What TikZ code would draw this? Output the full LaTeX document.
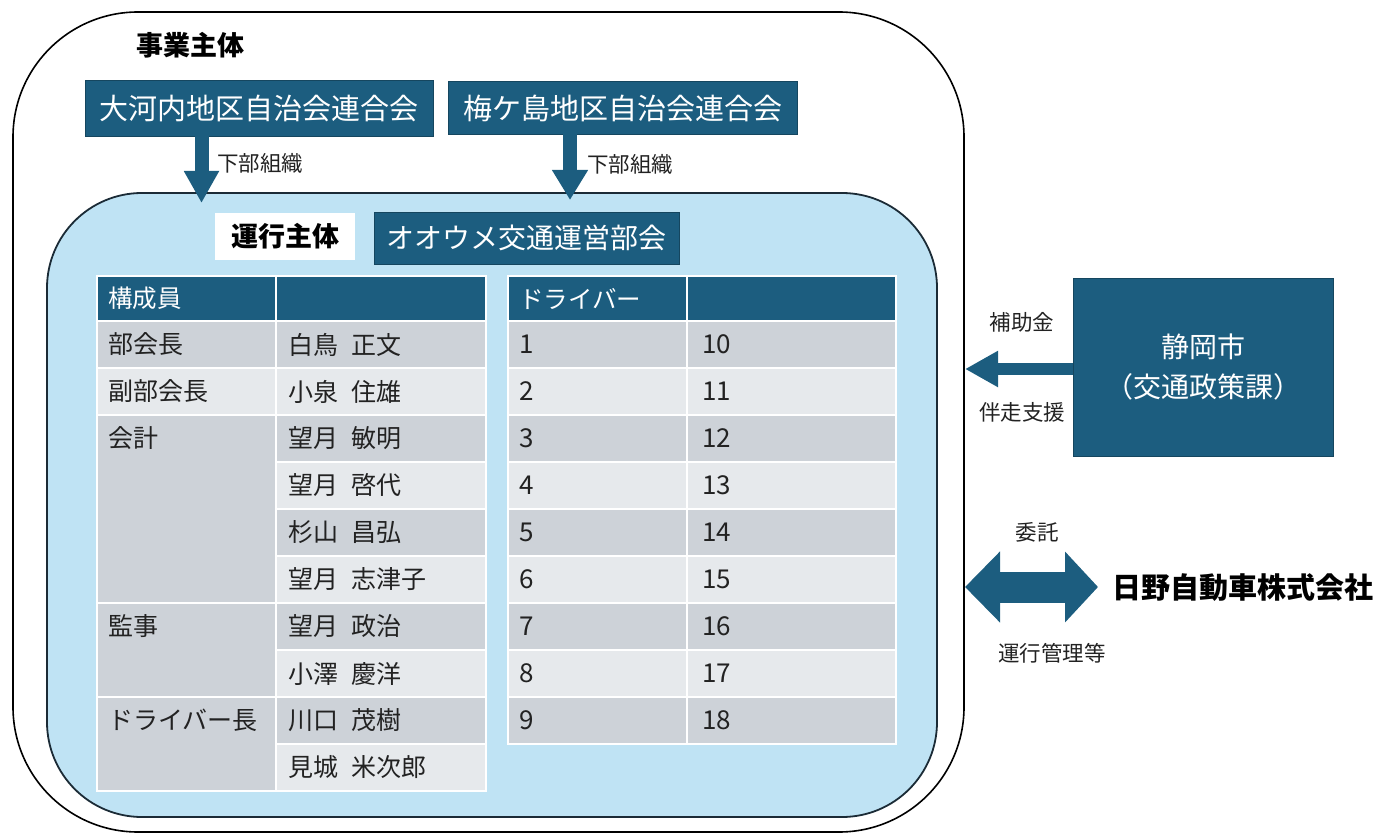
\documentclass[tikz,border=0pt]{standalone}
\usepackage{fontspec}
\setmainfont{Noto Sans CJK JP}
\usetikzlibrary{arrows.meta}
\definecolor{navy}{HTML}{1C5D7F}
\definecolor{navydk}{HTML}{15465F}
\definecolor{skyfill}{HTML}{BFE3F4}
\definecolor{rowdark}{HTML}{CDD2D8}
\definecolor{rowlight}{HTML}{E6E9EC}
\definecolor{ink}{HTML}{222222}
\definecolor{edge}{HTML}{1B2B36}
\newcommand{\fsz}[1]{\fontsize{#1}{#1}\selectfont}
\newcommand{\cellbox}[5]{\path[fill=#5, draw=white, line width=1.6pt] (#1,#2) rectangle (#3,#4);}
\begin{document}
\begin{tikzpicture}[x=1pt,y=-1pt,
  every node/.style={inner sep=0pt, outer sep=0pt},
  darkbox/.style={fill=navy, draw=navydk, line width=0.8pt, text=white},
  lbl/.style={text=ink, font=\fsz{21.5}},
  celltxt/.style={anchor=west, text=ink, font=\fsz{25}},
  numtxt/.style={anchor=west, text=ink, font=\fsz{26}},
  headtxt/.style={anchor=west, text=white, font=\fsz{24.5}},
  blockarrow/.style={navy, line width=#1}
]
\useasboundingbox (0,0) rectangle (1388,834);

% outer and inner frames
\node[draw=black, line width=1.6pt, rounded corners=125pt, minimum width=951pt, minimum height=820pt] (outer) at (488.5,422) {};
\node[fill=skyfill, draw=edge, line width=1.8pt, rounded corners=95pt, minimum width=890pt, minimum height=624pt] (inner) at (492,505) {};

% titles
\node[font=\fsz{27}\bfseries, text=black] (jigyo) at (190,45) {事業主体};
\node[darkbox, minimum width=348pt, minimum height=56pt, font=\fsz{29}] (okochi) at (259,108) {大河内地区自治会連合会};
\node[darkbox, minimum width=349pt, minimum height=53pt, font=\fsz{29}] (umegashima) at (622.5,108) {梅ケ島地区自治会連合会};
\node[fill=white, minimum width=140pt, minimum height=47pt, font=\fsz{27}\bfseries, text=black] (unko) at (285,236.5) {運行主体};
\node[darkbox, minimum width=305pt, minimum height=52pt, font=\fsz{28}] (oume) at (526.5,238) {オオウメ交通運営部会};

% left table
\cellbox{97}{276}{276}{321}{navy}
\cellbox{276}{276}{486}{321}{navy}
\cellbox{97}{321}{276}{368}{rowdark}
\cellbox{97}{368}{276}{415}{rowlight}
\cellbox{97}{415}{276}{603}{rowdark}
\cellbox{97}{603}{276}{697}{rowdark}
\cellbox{97}{697}{276}{791}{rowdark}
\foreach \i in {1,...,10}{
  \pgfmathsetmacro\ytop{321+47*(\i-1)}
  \pgfmathsetmacro\ybot{321+47*\i}
  \ifodd\i \cellbox{276}{\ytop}{486}{\ybot}{rowdark}\else \cellbox{276}{\ytop}{486}{\ybot}{rowlight}\fi
}
\node[headtxt] (hmember) at (108,298.5) {構成員};
\node[celltxt] (r1) at (108,344.5) {部会長};
\node[celltxt] (r2) at (108,391.5) {副部会長};
\node[celltxt] (r3) at (108,438.5) {会計};
\node[celltxt] (r4) at (108,626.5) {監事};
\node[celltxt] (r5) at (108,720.5) {ドライバー長};
\foreach \a/\b [count=\i] in {白鳥/正文, 小泉/住雄, 望月/敏明, 望月/啓代, 杉山/昌弘, 望月/志津子, 望月/政治, 小澤/慶洋, 川口/茂樹, 見城/米次郎}{
  \node[celltxt] (nm\i) at (288,{297.5+47*\i}) {\a\hspace{0.55em}\b};
}

% right table
\cellbox{508}{276}{687}{321}{navy}
\cellbox{687}{276}{896}{321}{navy}
\foreach \i in {1,...,9}{
  \pgfmathsetmacro\ytop{321+47*(\i-1)}
  \pgfmathsetmacro\ybot{321+47*\i}
  \ifodd\i
    \cellbox{508}{\ytop}{687}{\ybot}{rowdark}\cellbox{687}{\ytop}{896}{\ybot}{rowdark}
  \else
    \cellbox{508}{\ytop}{687}{\ybot}{rowlight}\cellbox{687}{\ytop}{896}{\ybot}{rowlight}
  \fi
}
\node[headtxt] (hdriver) at (519,298.5) {ドライバー};
\foreach \i in {1,...,9}{
  \pgfmathtruncatemacro\j{\i+9}
  \node[numtxt] (da\i) at (519,{297.5+47*\i}) {\i};
  \node[numtxt] (db\i) at (702,{297.5+47*\i}) {\j};
}

% down arrows
\coordinate (tipA) at (201.5,203);
\coordinate (tipB) at (570,200);
\draw[blockarrow=14pt, -{Triangle[length=32pt,width=33pt]}] (okochi.south -| tipA) -- (tipA);
\draw[blockarrow=14pt, -{Triangle[length=30pt,width=34pt]}] (umegashima.south -| tipB) -- (tipB);
\node[lbl, anchor=west] (subA) at (217,163) {下部組織};
\node[lbl, anchor=west] (subB) at (587,164) {下部組織};

% Shizuoka city
\node[darkbox, minimum width=260pt, minimum height=178pt, font=\fontsize{28}{40}\selectfont, align=center] (city) at (1203,367) {静岡市\\（交通政策課）};
\coordinate (tipC) at (965,369);
\draw[blockarrow=12pt, -{Triangle[length=33pt,width=34pt]}] (city.west |- tipC) -- (tipC);
\node[lbl] (hojo) at (1022,322) {補助金};
\node[lbl] (bansou) at (1022,412) {伴走支援};

% Hino Motors
\node[font=\fsz{29}\bfseries, text=black, anchor=west] (hino) at (1112,588) {日野自動車株式会社};
\coordinate (tipD) at (965,587);
\coordinate (tipE) at (1098,587);
\draw[blockarrow=31pt, {Triangle[length=35pt,width=69pt]}-{Triangle[length=33pt,width=69pt]}] (tipD) -- (tipE);
\node[lbl] (itaku) at (1037,532) {委託};
\node[lbl] (kanri) at (1052,653) {運行管理等};
\end{tikzpicture}
\end{document}
